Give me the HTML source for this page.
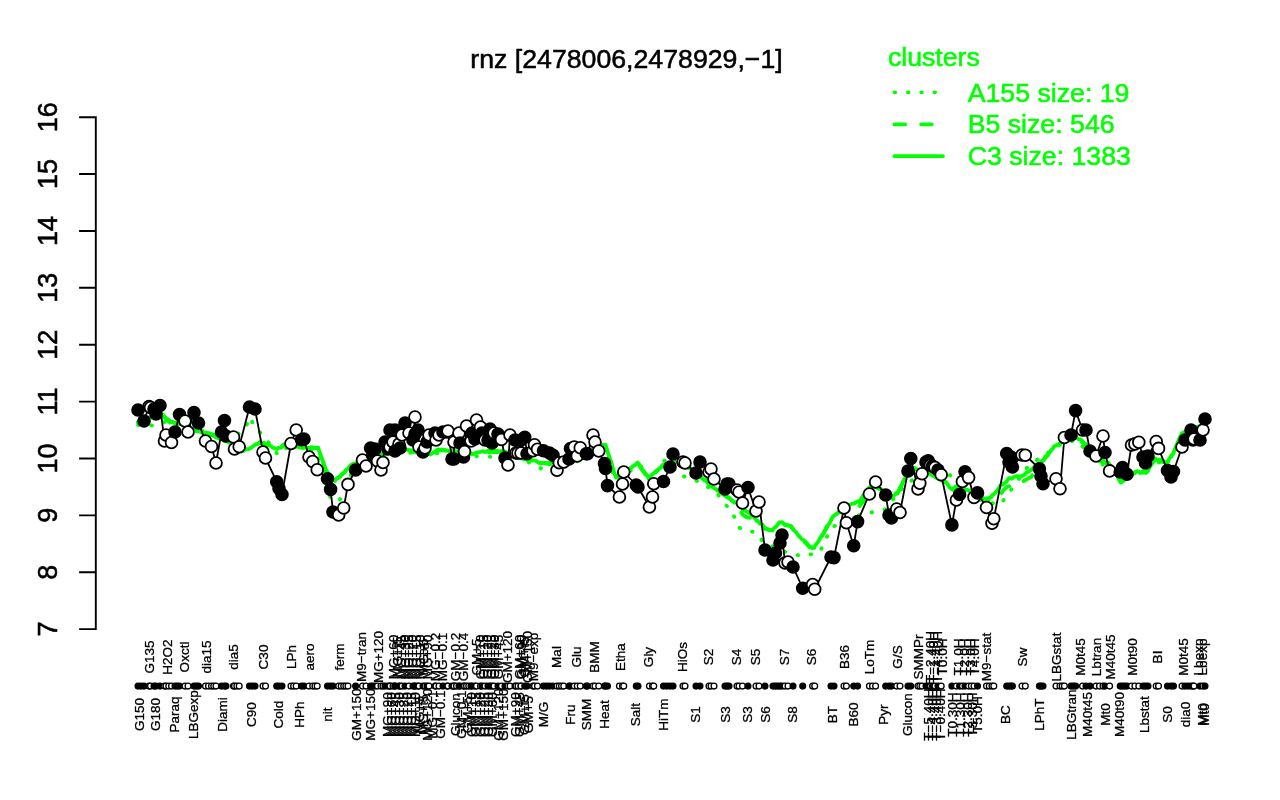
<!DOCTYPE html><html><head><meta charset="utf-8"><title>rnz</title><style>html,body{margin:0;padding:0;background:#fff;overflow:hidden}svg{display:block;will-change:transform}text{font-family:"Liberation Sans",Arial,Helvetica,sans-serif}</style></head><body>
<svg width="1280" height="800" viewBox="0 0 1280 800">
<rect width="1280" height="800" fill="#fff"/>
<text x="626.5" y="67.7" font-size="26.7" text-anchor="middle" stroke="#000" stroke-width="0.55">rnz [2478006,2478929,−1]</text>
<g stroke="#000" stroke-width="1.9" fill="none" stroke-linecap="butt">
<path d="M95.8 630.05V116.23
M79.1 629.1H96.75
M79.1 572.22H96.75
M79.1 515.34H96.75
M79.1 458.46H96.75
M79.1 401.58H96.75
M79.1 344.7H96.75
M79.1 287.82H96.75
M79.1 230.94H96.75
M79.1 174.06H96.75
M79.1 117.18H96.75
"/></g>
<text transform="translate(57.1,629.1) rotate(-90)" font-size="27" text-anchor="middle" stroke="#000" stroke-width="0.55">7</text>
<text transform="translate(57.1,572.22) rotate(-90)" font-size="27" text-anchor="middle" stroke="#000" stroke-width="0.55">8</text>
<text transform="translate(57.1,515.34) rotate(-90)" font-size="27" text-anchor="middle" stroke="#000" stroke-width="0.55">9</text>
<text transform="translate(57.1,458.46) rotate(-90)" font-size="27" text-anchor="middle" stroke="#000" stroke-width="0.55">10</text>
<text transform="translate(57.1,401.58) rotate(-90)" font-size="27" text-anchor="middle" stroke="#000" stroke-width="0.55">11</text>
<text transform="translate(57.1,344.7) rotate(-90)" font-size="27" text-anchor="middle" stroke="#000" stroke-width="0.55">12</text>
<text transform="translate(57.1,287.82) rotate(-90)" font-size="27" text-anchor="middle" stroke="#000" stroke-width="0.55">13</text>
<text transform="translate(57.1,230.94) rotate(-90)" font-size="27" text-anchor="middle" stroke="#000" stroke-width="0.55">14</text>
<text transform="translate(57.1,174.06) rotate(-90)" font-size="27" text-anchor="middle" stroke="#000" stroke-width="0.55">15</text>
<text transform="translate(57.1,117.18) rotate(-90)" font-size="27" text-anchor="middle" stroke="#000" stroke-width="0.55">16</text>
<g fill="#00ff00" font-size="26.7" stroke="#00ff00" stroke-width="0.55"><text x="887.9" y="66.2">clusters</text>
<text x="967.7" y="101.7">A155 size: 19</text><text x="967.7" y="133.4">B5 size: 546</text><text x="967.7" y="165.2">C3 size: 1383</text></g>
<g stroke="#00ff00" stroke-width="3.8" stroke-linecap="round" fill="none">
<path d="M894.6 92.3H942.9" stroke-dasharray="0.6 12.7"/>
<path d="M894.6 124.4H942.9" stroke-dasharray="10.5 16.1"/>
<path d="M894.6 156.2H942.9"/></g>
<g stroke="#00ff00" fill="none" stroke-linecap="round" stroke-linejoin="round" stroke-width="3.8">
<polyline points="138,425 155,425.5 170,420 200,430 230,440 245,429 250,417 255,428 264,436 278,455 290,445 310,450 318,452 326,478 333,510 339,502 343,491 350,476 360,465 380,455 420,452 470,456 520,458 550,473 580,460 605,450 615,480 640,465 650,480 665,460 679,474.7 700,482 716,492 725.7,504.7 733,513 737,526 744.4,531 755.7,532 763,542 782,550.7 791,554 802.6,556 819.5,552.6 825,541 830.7,529 838,523.5 860,515 885,509.4 905,485 920,475 954.7,475.3 980,500 1000,505 1029,465 1060,445 1075,440 1100,462 1120,480 1140,470 1160,462 1175,455 1190,432 1205,428" stroke-dasharray="0.6 12.7"/>
<polyline points="138,422.5 140,421.83 143,420.83 146,419.83 149,418.83 150,418.5 152,417.5 155,416 158,414.5 160,413.5 161,414.4 164,417.1 167,419.8 170,422.5 173,423.3 176,424.1 179,424.9 182,425.7 185,426.5 188,427.62 191,428.74 194,429.86 197,430.98 200,432.1 203,432.88 206,433.67 209,434.45 212,435.24 213,435.5 215,436.5 218,438 219,438.5 221,439.41 224,440.77 227,442.14 230,443.5 233,445.68 236,447.86 239,450.05 241,451.5 242,451.25 245,450.5 248,449.75 249,449.5 251,448.23 254,446.32 257,444.41 260,442.5 263,443.59 266,444.68 269,445.77 271,446.5 272,447 275,448.5 277,449.5 278,448.93 281,447.21 284,445.49 284.5,445.2 287,445.75 290,446.4 293,447.06 295,447.5 296,447.55 299,447.7 302,447.85 305,448 308,448 311,448 314,448 317,448 318,448 320,453.62 323,462.06 326,470.5 329,474.17 332,477.83 335,481.5 338,478.5 341,475.5 344,472.5 346,470.5 347,469.5 350,466.5 353,464.9 356,463.3 359,461.7 362,460.1 365,458.5 368,457.83 371,457.17 374,456.5 377,455.83 380,455.17 383,454.5 386,453.93 389,453.36 392,452.79 395,452.22 398,451.65 401,451.08 404,450.5 405.6,450.2 407,450.43 410,450.93 411,451.1 413,451.5 416,452.1 419,452.7 422,453.3 425,453.9 428,454.5 430,454.9 431,454.4 434,452.9 437,451.4 439.4,450.2 440,450.24 443,450.45 446,450.65 449,450.85 452,451.06 452.6,451.1 455,451.48 458,451.95 461,452.42 464,452.9 467,453.37 470,453.84 471,454 473,453.75 476,453.37 479,452.99 482,452.61 485,452.23 486,452.1 488,452.1 491,452.1 494,452.1 497,452.1 500,452.1 501,452.1 503,452.68 506,453.54 509,454.41 510.7,454.9 512,455.33 515,456.32 518,457.32 521,458.31 524,459.31 527,460.3 527.6,460.5 530,460.91 533,461.42 536,461.93 539,462.43 542,462.94 545,463.45 548,463.96 550,464.3 551,464.01 554,463.14 557,462.27 560,461.4 563,460.53 566,459.66 569,458.79 570,458.5 572,457.9 575,457 578,456.1 581,455.2 584,454.3 587,453.4 590,452.5 593,450.7 596,448.9 599,447.1 600,446.5 602,446.14 605,445.61 605.6,445.5 608,453 611,462.37 614,471.75 616,478 617,477.3 620,475.21 623,473.12 626,471.02 629,468.93 632,466.84 635,464.74 637.5,463 638,463.72 641,468.06 644,472.39 647,476.72 648.75,479.25 650,478 653,475 656,472 659,469 662,466 662.5,465.5 665,464.9 668,464.18 671,463.46 674,462.74 675,462.5 677,463.3 680,464.5 683,465.7 686,466.9 689,468.1 690,468.5 692,470.1 695,472.5 698,474.9 701,477.3 704,479.7 705,480.5 707,482.14 710,484.59 713,487.05 716,489.5 719,491.55 722,493.61 725,495.66 728,497.71 731,499.76 734,502.48 735,503.75 737,506.55 740,510.76 743,514.96 746,516.83 749,517.61 752,518.39 755,519.17 757.5,521.2 758,521.69 761,524.61 764,527.53 765,528.5 767,529.03 770,529.82 772.6,530.5 773,530.09 776,527.05 779,524.01 780,523 782,523.64 785,524.59 788,525.55 791,526.5 794,530.14 797,533.78 799,536.2 800,537.23 803,540.31 806,543.39 809,546.47 810,547.5 812,548 814,548.5 815,546.94 818,542.28 821,537.61 823,534.5 824,532.73 827,527.42 830,522.1 832.6,517.5 833,517.18 836,514.74 839,512.31 840,511.5 842,510.23 845,508.32 848,506.41 851,504.5 854,505.25 857,506 859,506.5 860,505.64 863,502.07 866,496.5 869,491.25 872,486 875,486.83 878,488.17 881,489.5 884,492.17 887,494.83 890,497.5 893,495.9 896,494.3 897.5,493.5 899,490.5 902,484.5 905,478.5 908,475.31 911,472.12 914,468.93 914.4,468.5 917,469.5 920,470.65 923,471.81 926,472.96 929,474.12 930,474.5 932,475.5 935,477 938,478.5 941,480 944,481.5 946,482.5 947,483.73 950,487.43 952,489.9 953,489.23 956,487.21 957.5,486.2 959,486.96 962,488.47 965,489.98 968,491.49 970,492.5 971,493.18 974,495.22 977,497.26 980,499.3 983,498.82 986,498.97 989,500.18 991.3,501.11 992,500.68 995,498.87 998,497.05 1001,494.11 1002.6,491.34 1004,489.45 1007,487.02 1010,485.92 1013,486.45 1016,486.14 1019,484.17 1022,482.2 1025,480.23 1028,478.59 1031,477.18 1032.6,474.72 1034,472.42 1037,467.51 1040,463.09 1043,460.57 1043.8,459.9 1046,457.23 1049,453.59 1052,449.96 1053.2,448.5 1055,447.18 1058,444.98 1060.7,443 1061,442.76 1064,440.34 1067,437.92 1070,435.5 1073,437 1076,438.5 1077.6,439.3 1079,440.19 1082,442.09 1085,444 1088,447.56 1091,451.12 1094,454.68 1097,458.23 1099.5,461.2 1100,461.33 1103,462.09 1106,462.86 1108.5,463.5 1109,464.27 1112,468.86 1115,473.46 1118,478.06 1120.9,482.5 1121,482.43 1124,480.38 1127,478.32 1130,476.27 1133,474.21 1135.5,472.5 1136,472.5 1139,472.5 1142,472.5 1145,472.5 1146.7,472.5 1148,470.55 1151,466.05 1154,461.55 1155.7,459 1157,459.52 1160,460.71 1163,461.91 1166,463.1 1167,463.5 1169,460.49 1172,455.96 1173.7,453.4 1175,450.24 1178,442.95 1181,435.66 1181.6,434.2 1184,433.18 1187,431.9 1190,430.63 1193,429.35 1195,428.5 1196,428.2 1199,427.3 1202,426.4 1205,425.5" stroke-dasharray="10.5 16.1"/>
<polyline points="138,422 140.8,420.68 143.6,419.37 146.4,419.53 149.2,417.33 150,418 152,417.08 154.8,415.3 157.6,413.23 160,413 160.4,413.38 163.2,414.86 166,418.25 168.8,419.97 170,422 171.6,421.53 174.4,423.01 177.2,424.64 180,423.84 182.8,424.8 185,426 185.6,426.5 188.4,428.25 191.2,428.48 194,429.13 196.8,431.45 199.6,430.45 200,431.6 202.4,433.02 205.2,432.5 208,432.91 210.8,433.58 213,435 213.6,434.88 216.4,437.4 219,438 219.2,437.39 222,439.54 224.8,440.94 227.6,441.63 230,443 230.4,443.4 233.2,444.37 236,446.39 238.8,448.75 241,451 241.6,451.25 244.4,449.99 247.2,449.04 249,449 250,448.55 252.8,446.48 255.6,444.36 258.4,443.67 260,442 261.2,442.87 264,442.89 266.8,444.64 269.6,445.55 271,446 272.4,447.53 275.2,448.6 277,449 278,447.96 280.8,447.88 283.6,444.38 284.5,444.7 286.4,444.94 289.2,446.3 292,445.58 294.8,446.93 295,447 297.6,446.12 300.4,447.64 303.2,447.99 305,447.5 306,447.66 308.8,448.33 311.6,447.09 314.4,447.93 317.2,447.71 318,447.5 320,453.3 322.8,460.9 325.6,469.62 326,470 328.4,473.91 331.2,476.3 334,480.14 335,481 336.8,478.23 339.6,476.84 342.4,473.92 345.2,471.88 346,470 348,468.71 350,466 350.8,465.1 353.6,463.83 356.4,462.96 359.2,460.04 362,459.52 364.8,457.38 365,458 367.6,456.58 370.4,455.83 373.2,456.77 376,454.74 378.8,454.38 381.6,454.07 383,454 384.4,454.55 387.2,452.28 390,452.56 392.8,452.24 395.6,452.45 398.4,451.77 401.2,451.34 404,449.52 405.6,449.7 406.8,449.71 409.6,450.06 411,450.6 412.4,451.73 415.2,452.45 418,451.23 420.8,451.85 423.6,452.53 426.4,453.09 429.2,454.21 430,454.4 432,453.6 434.8,451.48 437.6,449.51 439.4,449.7 440.4,449.59 443.2,449.67 446,450.3 448.8,451.34 451.6,450.95 452.6,450.6 454.4,450.92 457.2,451.58 460,452.15 462.8,451.23 465.6,453.53 468.4,453.71 471,453.5 471.2,454.3 474,453.78 476.8,452.53 479.6,452.19 482.4,451.18 485.2,452 486,451.6 488,450.64 490.8,450.65 493.6,450.96 496.4,450.86 499.2,451.25 501,451.6 502,450.9 504.8,451.6 507.6,452.74 510.4,453.44 510.7,454.4 513.2,454.93 516,455.11 518.8,457.91 521.6,458.26 524.4,458.17 527.2,459.32 527.6,460 530,460.07 532.8,460.58 535.6,460.53 538.4,462.6 541.2,463.39 544,462.71 546.8,463.22 549.6,462.82 550,463.8 552.4,462.23 555.2,461.95 558,460.96 560.8,461.39 563.6,459.11 566.4,457.99 569.2,459.22 570,458 572,457.46 574.8,455.78 577.6,455.81 580.4,453.84 583.2,454.1 586,454.25 588.8,453.16 590,452 591.6,451.47 594.4,448.83 597.2,447.39 600,446 602.8,444.77 605.6,445 608.4,454.35 611.2,462.57 614,471.86 616,477.5 616.8,476.57 619.6,474.38 622.4,473.72 625.2,472.15 628,469.9 630.8,467.85 633.6,465.92 636.4,463.8 637.5,462.5 639.2,464.35 642,469.04 644.8,472.73 647.6,476.05 648.75,478.75 650.4,476.06 653.2,473.81 656,470.97 658.8,469.12 661.6,466.9 662.5,465 664.4,464.43 667.2,464.83 670,464.27 672.8,463.53 675,462 675.6,461.94 678.4,462.75 681.2,463.88 684,464.93 686.8,466.07 689.6,468.11 690,468 692.4,470.8 695.2,472.91 698,474.35 700.8,476.98 703.6,479.54 705,480 706.4,480.23 709.2,483.79 712,486.63 714.8,488.64 716,489 717.6,490.65 720.4,491.96 723.2,493.22 726,496.48 728.8,497.39 731.6,500.34 734.4,502.63 735,502 737.2,503.57 740,505.87 742.8,509.36 745.6,511.17 746,511 748.4,512.3 751.2,514.57 754,516.98 756.8,521 757.5,520.7 759.6,523.42 762.4,524.69 765,528 765.2,528.77 768,529.85 770.8,529.87 772.6,530 773.6,528.66 776.4,526.26 779.2,522.5 780,522.5 782,522.07 784.8,525.06 787.6,525.25 790.4,525.87 791,526 793.2,529.62 796,531.92 798.8,536.28 799,535.7 801.6,539.09 804.4,540.61 807.2,543.58 810,547 812.8,547.24 814,548 815.6,544.94 818.4,541.35 821.2,536.27 823,534 824,532.05 826.8,526.46 829.6,523.21 832.4,517.03 832.6,517 835.2,514.8 838,512.8 840,511 840.8,511.38 843.6,508.53 846.4,507.85 849.2,505.15 851,504 852,503.82 854.8,503.1 857.6,501.29 859,502 860.4,499.97 863.2,495.6 866,492.5 868.8,487.91 871.6,486.16 872,485 874.4,485.35 877.2,487.25 880,489.05 881,489 882.8,490.72 885.6,492.71 888.4,495.62 890,497 891.2,496.48 894,495.49 896.8,492.51 897.5,493 899.6,488.93 902.4,482.65 905,478 905.2,477.3 908,475.41 910.8,471.85 913.6,468.99 914.4,468 916.4,469.34 919.2,470.75 922,470.8 924.8,472.25 927.6,473.09 930,474 930.4,474.23 933.2,476.02 936,476.9 938.8,478.47 941.6,479.75 944.4,482.17 946,482 947.2,483.92 950,487.76 952,489.4 952.8,489.83 955.6,486.45 957.5,485.7 958.4,486.28 961.2,488.54 964,489.72 966.8,489.59 969.6,490.97 970,492 972.4,493.5 975.2,494.6 978,496.87 980,498.8 980.8,497.73 983.6,498.6 986.4,498.41 989.2,498.21 991.3,497 992,495.42 994.8,493.39 997.6,489.99 1000.4,485.58 1002.6,483.8 1003.2,484.17 1006,482.16 1008.8,478.32 1010,478 1011.6,478.61 1014.4,476.72 1017.2,476.24 1020,476.68 1022.8,475.66 1025,474.4 1025.6,473.21 1028.4,471.74 1031.2,469.87 1032.6,468.8 1034,467.27 1036.8,464.61 1039.6,462.53 1042.4,461.06 1043.8,459.4 1045.2,456.64 1048,454.43 1050.8,450.78 1053.2,448 1053.6,446.65 1056.4,445.28 1059.2,443.87 1060.7,442.5 1062,441.48 1064.8,438.23 1067.6,438 1070,435 1070.4,435.83 1073.2,437.64 1076,437.13 1077.6,438.8 1078.8,439.05 1081.6,440.33 1084.4,443.73 1085,443.5 1087.2,445.6 1090,448.62 1092.8,452.58 1095.6,456.98 1098.4,460.1 1099.5,460.7 1101.2,460.6 1104,461.08 1106.8,463.49 1108.5,463 1109.6,464.84 1112.4,469.42 1115.2,472.36 1118,476.58 1120.8,482.26 1120.9,482 1123.6,479.99 1126.4,477.29 1129.2,477.28 1132,474.69 1134.8,473.14 1135.5,472 1137.6,471.08 1140.4,472.78 1143.2,471.05 1146,472.8 1146.7,472 1148.8,468.75 1151.6,464.3 1154.4,460.57 1155.7,458.5 1157.2,460.04 1160,459.7 1162.8,460.51 1165.6,462.5 1167,463 1168.4,460.31 1171.2,455.81 1173.7,452.9 1174,451.43 1176.8,444.38 1179.6,437.9 1181.6,433.7 1182.4,432.95 1185.2,431.74 1188,431.55 1190.8,429.32 1193.6,428.6 1195,428 1196.4,426.87 1199.2,426.4 1202,424.84 1204.8,424.51 1205,425"/>
</g>
<polyline points="138,410 144,421 149,406.5 150.5,407.5 154,409 156,414 160,405.5 164.5,441 166,435 171.5,442.5 175,432 179.5,414.5 185,421 188,432 194,412.5 198.5,423 205.5,441 211.5,446.5 216,463 221.5,432 224.5,420.5 226,436 233.5,437 234.5,449 239.2,446.8 249.5,407 255,409 263,452 265.5,458 276.7,481.7 279,488.5 282,494.5 291,443.5 296.2,430 301.5,439.7 304,439 309,457 312.7,461.5 317.2,469.7 327.5,478.7 330.6,489.4 333,512 338.7,515 343.7,508 348,484.4 355.6,470 362.5,460 366,466 370.6,448 372.5,455 375,449 377.5,461 381,470 383,462.5 385,442 388,449 390,430 390,447 393,442 395,451 395,430 399,444 400,448 402,435 405,423 409,433 413,440 415,417 415,434 418,430 419,447 423,452 425,448 427,442 429,435 435,433 436,440 439,435 443,432 447,432 448,431 452,459 454,459 454,442 459,433 460,443 463.5,457 464.5,451.5 466.5,426 471,441 472,433 475,439 476.5,420 480.5,427 482,433 485,440 488,440 490,429 492,443 494,433 498,434 501.5,439.5 505,458 508,465 510,435 515,440 516,453 518,453 521,440 521,453 524.75,437.25 527,453.75 533,450.75 534.5,444.75 537.5,449.25 543.5,450.75 549.5,453 553,455.25 557,470.25 559.25,462.75 563.75,462 569,459 570.5,448.5 574.25,447 577.25,456 580.25,447.75 586.25,453.75 587.5,453.75 593,435 595,442 598.75,451 604.5,463.5 605.5,468.5 607.5,485.6 619.4,497 622.5,484 623.75,472 636.25,485 638,487 649.4,507 652.5,497 653.75,483.75 663.5,481.5 670,467 673,454 683,462 685,463 696,473 700,462 709,472 711,469 714,479 725,489 727,484 729,484 737,490 739,492 742.5,503 748,487.5 756,511 759,502 765,550 773,560 775.5,553 780,543 782,535 785,563 788,562 793,567 802.7,588.2 812.6,584.6 814.7,589.3 831,557 834,557.6 844,508 846.4,522.75 853.7,545.8 857.6,521.6 869.4,494 875.6,482 885.7,495 889,515 891.4,518 896.7,509 900,512.5 908,471 910.8,458.5 918,488.9 919.8,483.2 922,473.7 926,462 928.2,460.7 930.5,465.2 932.5,466 935,467.5 938,470 941.2,474.8 951.9,524.9 956.4,500 959.6,494.5 962.4,481.5 965,471.7 968.6,477.6 974,497.4 977.5,492.9 986.5,507.5 992,523.2 993.8,518.7 1006.7,453.5 1009,462 1011,457 1012.4,467 1022,455 1025.3,455.2 1039.4,468.75 1041,476 1043,483.75 1056,478.75 1060,488.75 1064.4,437.5 1071,435 1075.6,410.6 1082.5,430 1086,430 1090,451 1096,456 1103,436 1105,452.5 1109.6,470.9 1120.2,472 1122.5,467.5 1127,474.2 1131.5,445 1134.9,443.9 1138.8,442.2 1143,457 1145.5,463 1148,456 1156.2,441.6 1158.5,448.4 1167.5,470.5 1171,477 1173.5,471.5 1182,447 1185,440 1191,430 1193,440 1194,439 1200,440 1203,430 1205,419" fill="none" stroke="#000" stroke-width="1.8" stroke-linejoin="round"/>
<g stroke="#000" stroke-width="1.8">
<circle cx="138" cy="410" r="5.9" fill="#000"/>
<circle cx="144" cy="421" r="5.9" fill="#000"/>
<circle cx="149" cy="406.5" r="5.9" fill="#fff"/>
<circle cx="150.5" cy="407.5" r="5.9" fill="#fff"/>
<circle cx="154" cy="409" r="5.9" fill="#000"/>
<circle cx="156" cy="414" r="5.9" fill="#000"/>
<circle cx="160" cy="405.5" r="5.9" fill="#000"/>
<circle cx="164.5" cy="441" r="5.9" fill="#fff"/>
<circle cx="166" cy="435" r="5.9" fill="#fff"/>
<circle cx="171.5" cy="442.5" r="5.9" fill="#fff"/>
<circle cx="175" cy="432" r="5.9" fill="#000"/>
<circle cx="179.5" cy="414.5" r="5.9" fill="#000"/>
<circle cx="185" cy="421" r="5.9" fill="#fff"/>
<circle cx="188" cy="432" r="5.9" fill="#fff"/>
<circle cx="194" cy="412.5" r="5.9" fill="#000"/>
<circle cx="198.5" cy="423" r="5.9" fill="#000"/>
<circle cx="205.5" cy="441" r="5.9" fill="#fff"/>
<circle cx="211.5" cy="446.5" r="5.9" fill="#fff"/>
<circle cx="216" cy="463" r="5.9" fill="#fff"/>
<circle cx="221.5" cy="432" r="5.9" fill="#000"/>
<circle cx="224.5" cy="420.5" r="5.9" fill="#000"/>
<circle cx="226" cy="436" r="5.9" fill="#000"/>
<circle cx="233.5" cy="437" r="5.9" fill="#fff"/>
<circle cx="234.5" cy="449" r="5.9" fill="#fff"/>
<circle cx="239.2" cy="446.8" r="5.9" fill="#fff"/>
<circle cx="249.5" cy="407" r="5.9" fill="#000"/>
<circle cx="255" cy="409" r="5.9" fill="#000"/>
<circle cx="263" cy="452" r="5.9" fill="#fff"/>
<circle cx="265.5" cy="458" r="5.9" fill="#fff"/>
<circle cx="276.7" cy="481.7" r="5.9" fill="#000"/>
<circle cx="279" cy="488.5" r="5.9" fill="#000"/>
<circle cx="282" cy="494.5" r="5.9" fill="#000"/>
<circle cx="291" cy="443.5" r="5.9" fill="#fff"/>
<circle cx="296.2" cy="430" r="5.9" fill="#fff"/>
<circle cx="301.5" cy="439.7" r="5.9" fill="#000"/>
<circle cx="304" cy="439" r="5.9" fill="#000"/>
<circle cx="309" cy="457" r="5.9" fill="#fff"/>
<circle cx="312.7" cy="461.5" r="5.9" fill="#fff"/>
<circle cx="317.2" cy="469.7" r="5.9" fill="#fff"/>
<circle cx="327.5" cy="478.7" r="5.9" fill="#000"/>
<circle cx="330.6" cy="489.4" r="5.9" fill="#000"/>
<circle cx="333" cy="512" r="5.9" fill="#000"/>
<circle cx="338.7" cy="515" r="5.9" fill="#fff"/>
<circle cx="343.7" cy="508" r="5.9" fill="#fff"/>
<circle cx="348" cy="484.4" r="5.9" fill="#fff"/>
<circle cx="355.6" cy="470" r="5.9" fill="#000"/>
<circle cx="362.5" cy="460" r="5.9" fill="#fff"/>
<circle cx="366" cy="466" r="5.9" fill="#fff"/>
<circle cx="370.6" cy="448" r="5.9" fill="#000"/>
<circle cx="372.5" cy="455" r="5.9" fill="#000"/>
<circle cx="375" cy="449" r="5.9" fill="#000"/>
<circle cx="377.5" cy="461" r="5.9" fill="#fff"/>
<circle cx="381" cy="470" r="5.9" fill="#fff"/>
<circle cx="383" cy="462.5" r="5.9" fill="#fff"/>
<circle cx="385" cy="442" r="5.9" fill="#000"/>
<circle cx="388" cy="449" r="5.9" fill="#000"/>
<circle cx="390" cy="430" r="5.9" fill="#000"/>
<circle cx="390" cy="447" r="5.9" fill="#fff"/>
<circle cx="393" cy="442" r="5.9" fill="#fff"/>
<circle cx="395" cy="451" r="5.9" fill="#000"/>
<circle cx="395" cy="430" r="5.9" fill="#000"/>
<circle cx="399" cy="444" r="5.9" fill="#fff"/>
<circle cx="400" cy="448" r="5.9" fill="#000"/>
<circle cx="402" cy="435" r="5.9" fill="#fff"/>
<circle cx="405" cy="423" r="5.9" fill="#000"/>
<circle cx="409" cy="433" r="5.9" fill="#fff"/>
<circle cx="413" cy="440" r="5.9" fill="#000"/>
<circle cx="415" cy="417" r="5.9" fill="#fff"/>
<circle cx="415" cy="434" r="5.9" fill="#000"/>
<circle cx="418" cy="430" r="5.9" fill="#000"/>
<circle cx="419" cy="447" r="5.9" fill="#fff"/>
<circle cx="423" cy="452" r="5.9" fill="#000"/>
<circle cx="425" cy="448" r="5.9" fill="#fff"/>
<circle cx="427" cy="442" r="5.9" fill="#000"/>
<circle cx="429" cy="435" r="5.9" fill="#fff"/>
<circle cx="435" cy="433" r="5.9" fill="#000"/>
<circle cx="436" cy="440" r="5.9" fill="#fff"/>
<circle cx="439" cy="435" r="5.9" fill="#fff"/>
<circle cx="443" cy="432" r="5.9" fill="#000"/>
<circle cx="447" cy="432" r="5.9" fill="#fff"/>
<circle cx="448" cy="431" r="5.9" fill="#fff"/>
<circle cx="452" cy="459" r="5.9" fill="#000"/>
<circle cx="454" cy="459" r="5.9" fill="#000"/>
<circle cx="454" cy="442" r="5.9" fill="#fff"/>
<circle cx="459" cy="433" r="5.9" fill="#fff"/>
<circle cx="460" cy="443" r="5.9" fill="#000"/>
<circle cx="463.5" cy="457" r="5.9" fill="#000"/>
<circle cx="464.5" cy="451.5" r="5.9" fill="#fff"/>
<circle cx="466.5" cy="426" r="5.9" fill="#fff"/>
<circle cx="471" cy="441" r="5.9" fill="#fff"/>
<circle cx="472" cy="433" r="5.9" fill="#000"/>
<circle cx="475" cy="439" r="5.9" fill="#000"/>
<circle cx="476.5" cy="420" r="5.9" fill="#fff"/>
<circle cx="480.5" cy="427" r="5.9" fill="#fff"/>
<circle cx="482" cy="433" r="5.9" fill="#000"/>
<circle cx="485" cy="440" r="5.9" fill="#fff"/>
<circle cx="488" cy="440" r="5.9" fill="#000"/>
<circle cx="490" cy="429" r="5.9" fill="#000"/>
<circle cx="492" cy="443" r="5.9" fill="#000"/>
<circle cx="494" cy="433" r="5.9" fill="#fff"/>
<circle cx="498" cy="434" r="5.9" fill="#000"/>
<circle cx="501.5" cy="439.5" r="5.9" fill="#fff"/>
<circle cx="505" cy="458" r="5.9" fill="#000"/>
<circle cx="508" cy="465" r="5.9" fill="#fff"/>
<circle cx="510" cy="435" r="5.9" fill="#fff"/>
<circle cx="515" cy="440" r="5.9" fill="#000"/>
<circle cx="516" cy="453" r="5.9" fill="#fff"/>
<circle cx="518" cy="453" r="5.9" fill="#fff"/>
<circle cx="521" cy="440" r="5.9" fill="#000"/>
<circle cx="521" cy="453" r="5.9" fill="#fff"/>
<circle cx="524.75" cy="437.25" r="5.9" fill="#000"/>
<circle cx="527" cy="453.75" r="5.9" fill="#000"/>
<circle cx="533" cy="450.75" r="5.9" fill="#fff"/>
<circle cx="534.5" cy="444.75" r="5.9" fill="#fff"/>
<circle cx="537.5" cy="449.25" r="5.9" fill="#fff"/>
<circle cx="543.5" cy="450.75" r="5.9" fill="#000"/>
<circle cx="549.5" cy="453" r="5.9" fill="#000"/>
<circle cx="553" cy="455.25" r="5.9" fill="#000"/>
<circle cx="557" cy="470.25" r="5.9" fill="#fff"/>
<circle cx="559.25" cy="462.75" r="5.9" fill="#fff"/>
<circle cx="563.75" cy="462" r="5.9" fill="#fff"/>
<circle cx="569" cy="459" r="5.9" fill="#000"/>
<circle cx="570.5" cy="448.5" r="5.9" fill="#000"/>
<circle cx="574.25" cy="447" r="5.9" fill="#fff"/>
<circle cx="577.25" cy="456" r="5.9" fill="#fff"/>
<circle cx="580.25" cy="447.75" r="5.9" fill="#fff"/>
<circle cx="586.25" cy="453.75" r="5.9" fill="#000"/>
<circle cx="587.5" cy="453.75" r="5.9" fill="#000"/>
<circle cx="593" cy="435" r="5.9" fill="#fff"/>
<circle cx="595" cy="442" r="5.9" fill="#fff"/>
<circle cx="598.75" cy="451" r="5.9" fill="#fff"/>
<circle cx="604.5" cy="463.5" r="5.9" fill="#000"/>
<circle cx="605.5" cy="468.5" r="5.9" fill="#000"/>
<circle cx="607.5" cy="485.6" r="5.9" fill="#000"/>
<circle cx="619.4" cy="497" r="5.9" fill="#fff"/>
<circle cx="622.5" cy="484" r="5.9" fill="#fff"/>
<circle cx="623.75" cy="472" r="5.9" fill="#fff"/>
<circle cx="636.25" cy="485" r="5.9" fill="#000"/>
<circle cx="638" cy="487" r="5.9" fill="#000"/>
<circle cx="649.4" cy="507" r="5.9" fill="#fff"/>
<circle cx="652.5" cy="497" r="5.9" fill="#fff"/>
<circle cx="653.75" cy="483.75" r="5.9" fill="#fff"/>
<circle cx="663.5" cy="481.5" r="5.9" fill="#000"/>
<circle cx="670" cy="467" r="5.9" fill="#000"/>
<circle cx="673" cy="454" r="5.9" fill="#000"/>
<circle cx="683" cy="462" r="5.9" fill="#fff"/>
<circle cx="685" cy="463" r="5.9" fill="#fff"/>
<circle cx="696" cy="473" r="5.9" fill="#000"/>
<circle cx="700" cy="462" r="5.9" fill="#000"/>
<circle cx="709" cy="472" r="5.9" fill="#fff"/>
<circle cx="711" cy="469" r="5.9" fill="#fff"/>
<circle cx="714" cy="479" r="5.9" fill="#fff"/>
<circle cx="725" cy="489" r="5.9" fill="#000"/>
<circle cx="727" cy="484" r="5.9" fill="#000"/>
<circle cx="729" cy="484" r="5.9" fill="#000"/>
<circle cx="737" cy="490" r="5.9" fill="#fff"/>
<circle cx="739" cy="492" r="5.9" fill="#fff"/>
<circle cx="742.5" cy="503" r="5.9" fill="#fff"/>
<circle cx="748" cy="487.5" r="5.9" fill="#000"/>
<circle cx="756" cy="511" r="5.9" fill="#fff"/>
<circle cx="759" cy="502" r="5.9" fill="#fff"/>
<circle cx="765" cy="550" r="5.9" fill="#000"/>
<circle cx="773" cy="560" r="5.9" fill="#000"/>
<circle cx="775.5" cy="553" r="5.9" fill="#000"/>
<circle cx="780" cy="543" r="5.9" fill="#000"/>
<circle cx="782" cy="535" r="5.9" fill="#000"/>
<circle cx="785" cy="563" r="5.9" fill="#fff"/>
<circle cx="788" cy="562" r="5.9" fill="#fff"/>
<circle cx="793" cy="567" r="5.9" fill="#000"/>
<circle cx="802.7" cy="588.2" r="5.9" fill="#000"/>
<circle cx="812.6" cy="584.6" r="5.9" fill="#fff"/>
<circle cx="814.7" cy="589.3" r="5.9" fill="#fff"/>
<circle cx="831" cy="557" r="5.9" fill="#000"/>
<circle cx="834" cy="557.6" r="5.9" fill="#000"/>
<circle cx="844" cy="508" r="5.9" fill="#fff"/>
<circle cx="846.4" cy="522.75" r="5.9" fill="#fff"/>
<circle cx="853.7" cy="545.8" r="5.9" fill="#000"/>
<circle cx="857.6" cy="521.6" r="5.9" fill="#000"/>
<circle cx="869.4" cy="494" r="5.9" fill="#fff"/>
<circle cx="875.6" cy="482" r="5.9" fill="#fff"/>
<circle cx="885.7" cy="495" r="5.9" fill="#000"/>
<circle cx="889" cy="515" r="5.9" fill="#000"/>
<circle cx="891.4" cy="518" r="5.9" fill="#000"/>
<circle cx="896.7" cy="509" r="5.9" fill="#fff"/>
<circle cx="900" cy="512.5" r="5.9" fill="#fff"/>
<circle cx="908" cy="471" r="5.9" fill="#000"/>
<circle cx="910.8" cy="458.5" r="5.9" fill="#000"/>
<circle cx="918" cy="488.9" r="5.9" fill="#fff"/>
<circle cx="919.8" cy="483.2" r="5.9" fill="#fff"/>
<circle cx="922" cy="473.7" r="5.9" fill="#fff"/>
<circle cx="926" cy="462" r="5.9" fill="#000"/>
<circle cx="928.2" cy="460.7" r="5.9" fill="#000"/>
<circle cx="930.5" cy="465.2" r="5.9" fill="#fff"/>
<circle cx="932.5" cy="466" r="5.9" fill="#000"/>
<circle cx="935" cy="467.5" r="5.9" fill="#fff"/>
<circle cx="938" cy="470" r="5.9" fill="#000"/>
<circle cx="941.2" cy="474.8" r="5.9" fill="#fff"/>
<circle cx="951.9" cy="524.9" r="5.9" fill="#000"/>
<circle cx="956.4" cy="500" r="5.9" fill="#fff"/>
<circle cx="959.6" cy="494.5" r="5.9" fill="#000"/>
<circle cx="962.4" cy="481.5" r="5.9" fill="#fff"/>
<circle cx="965" cy="471.7" r="5.9" fill="#000"/>
<circle cx="968.6" cy="477.6" r="5.9" fill="#fff"/>
<circle cx="974" cy="497.4" r="5.9" fill="#fff"/>
<circle cx="977.5" cy="492.9" r="5.9" fill="#000"/>
<circle cx="986.5" cy="507.5" r="5.9" fill="#fff"/>
<circle cx="992" cy="523.2" r="5.9" fill="#fff"/>
<circle cx="993.8" cy="518.7" r="5.9" fill="#fff"/>
<circle cx="1006.7" cy="453.5" r="5.9" fill="#000"/>
<circle cx="1009" cy="462" r="5.9" fill="#000"/>
<circle cx="1011" cy="457" r="5.9" fill="#000"/>
<circle cx="1012.4" cy="467" r="5.9" fill="#000"/>
<circle cx="1022" cy="455" r="5.9" fill="#fff"/>
<circle cx="1025.3" cy="455.2" r="5.9" fill="#fff"/>
<circle cx="1039.4" cy="468.75" r="5.9" fill="#000"/>
<circle cx="1041" cy="476" r="5.9" fill="#000"/>
<circle cx="1043" cy="483.75" r="5.9" fill="#000"/>
<circle cx="1056" cy="478.75" r="5.9" fill="#fff"/>
<circle cx="1060" cy="488.75" r="5.9" fill="#fff"/>
<circle cx="1064.4" cy="437.5" r="5.9" fill="#fff"/>
<circle cx="1071" cy="435" r="5.9" fill="#000"/>
<circle cx="1075.6" cy="410.6" r="5.9" fill="#000"/>
<circle cx="1082.5" cy="430" r="5.9" fill="#fff"/>
<circle cx="1086" cy="430" r="5.9" fill="#000"/>
<circle cx="1090" cy="451" r="5.9" fill="#000"/>
<circle cx="1096" cy="456" r="5.9" fill="#fff"/>
<circle cx="1103" cy="436" r="5.9" fill="#fff"/>
<circle cx="1105" cy="452.5" r="5.9" fill="#000"/>
<circle cx="1109.6" cy="470.9" r="5.9" fill="#fff"/>
<circle cx="1120.2" cy="472" r="5.9" fill="#000"/>
<circle cx="1122.5" cy="467.5" r="5.9" fill="#000"/>
<circle cx="1127" cy="474.2" r="5.9" fill="#000"/>
<circle cx="1131.5" cy="445" r="5.9" fill="#fff"/>
<circle cx="1134.9" cy="443.9" r="5.9" fill="#fff"/>
<circle cx="1138.8" cy="442.2" r="5.9" fill="#fff"/>
<circle cx="1143" cy="457" r="5.9" fill="#000"/>
<circle cx="1145.5" cy="463" r="5.9" fill="#000"/>
<circle cx="1148" cy="456" r="5.9" fill="#000"/>
<circle cx="1156.2" cy="441.6" r="5.9" fill="#fff"/>
<circle cx="1158.5" cy="448.4" r="5.9" fill="#fff"/>
<circle cx="1167.5" cy="470.5" r="5.9" fill="#000"/>
<circle cx="1171" cy="477" r="5.9" fill="#000"/>
<circle cx="1173.5" cy="471.5" r="5.9" fill="#000"/>
<circle cx="1182" cy="447" r="5.9" fill="#fff"/>
<circle cx="1185" cy="440" r="5.9" fill="#000"/>
<circle cx="1191" cy="430" r="5.9" fill="#000"/>
<circle cx="1193" cy="440" r="5.9" fill="#000"/>
<circle cx="1194" cy="439" r="5.9" fill="#fff"/>
<circle cx="1200" cy="440" r="5.9" fill="#000"/>
<circle cx="1203" cy="430" r="5.9" fill="#fff"/>
<circle cx="1205" cy="419" r="5.9" fill="#000"/>
</g>
<g stroke="#000" stroke-width="1.3">
<circle cx="138" cy="686.1" r="2.9" fill="#000"/>
<circle cx="141" cy="686.1" r="2.9" fill="#000"/>
<circle cx="144" cy="686.1" r="2.9" fill="#000"/>
<circle cx="149" cy="686.1" r="2.9" fill="#fff"/>
<circle cx="150.5" cy="686.1" r="2.9" fill="#fff"/>
<circle cx="154" cy="686.1" r="2.9" fill="#000"/>
<circle cx="156" cy="686.1" r="2.9" fill="#000"/>
<circle cx="160" cy="686.1" r="2.9" fill="#000"/>
<circle cx="164.5" cy="686.1" r="2.9" fill="#fff"/>
<circle cx="166" cy="686.1" r="2.9" fill="#fff"/>
<circle cx="168.75" cy="686.1" r="2.9" fill="#fff"/>
<circle cx="171.5" cy="686.1" r="2.9" fill="#fff"/>
<circle cx="175" cy="686.1" r="2.9" fill="#000"/>
<circle cx="177.25" cy="686.1" r="2.9" fill="#000"/>
<circle cx="179.5" cy="686.1" r="2.9" fill="#000"/>
<circle cx="185" cy="686.1" r="2.9" fill="#fff"/>
<circle cx="188" cy="686.1" r="2.9" fill="#fff"/>
<circle cx="194" cy="686.1" r="2.9" fill="#000"/>
<circle cx="196.25" cy="686.1" r="2.9" fill="#000"/>
<circle cx="198.5" cy="686.1" r="2.9" fill="#000"/>
<circle cx="205.5" cy="686.1" r="2.9" fill="#fff"/>
<circle cx="208.5" cy="686.1" r="2.9" fill="#fff"/>
<circle cx="211.5" cy="686.1" r="2.9" fill="#fff"/>
<circle cx="213.75" cy="686.1" r="2.9" fill="#fff"/>
<circle cx="216" cy="686.1" r="2.9" fill="#fff"/>
<circle cx="221.5" cy="686.1" r="2.9" fill="#000"/>
<circle cx="224.5" cy="686.1" r="2.9" fill="#000"/>
<circle cx="226" cy="686.1" r="2.9" fill="#000"/>
<circle cx="233.5" cy="686.1" r="2.9" fill="#fff"/>
<circle cx="234.5" cy="686.1" r="2.9" fill="#fff"/>
<circle cx="236.85" cy="686.1" r="2.9" fill="#fff"/>
<circle cx="239.2" cy="686.1" r="2.9" fill="#fff"/>
<circle cx="249.5" cy="686.1" r="2.9" fill="#000"/>
<circle cx="252.25" cy="686.1" r="2.9" fill="#000"/>
<circle cx="255" cy="686.1" r="2.9" fill="#000"/>
<circle cx="263" cy="686.1" r="2.9" fill="#fff"/>
<circle cx="265.5" cy="686.1" r="2.9" fill="#fff"/>
<circle cx="276.7" cy="686.1" r="2.9" fill="#000"/>
<circle cx="279" cy="686.1" r="2.9" fill="#000"/>
<circle cx="282" cy="686.1" r="2.9" fill="#000"/>
<circle cx="291" cy="686.1" r="2.9" fill="#fff"/>
<circle cx="293.6" cy="686.1" r="2.9" fill="#fff"/>
<circle cx="296.2" cy="686.1" r="2.9" fill="#fff"/>
<circle cx="301.5" cy="686.1" r="2.9" fill="#000"/>
<circle cx="304" cy="686.1" r="2.9" fill="#000"/>
<circle cx="309" cy="686.1" r="2.9" fill="#fff"/>
<circle cx="312.7" cy="686.1" r="2.9" fill="#fff"/>
<circle cx="314.95" cy="686.1" r="2.9" fill="#fff"/>
<circle cx="317.2" cy="686.1" r="2.9" fill="#fff"/>
<circle cx="327.5" cy="686.1" r="2.9" fill="#000"/>
<circle cx="330.6" cy="686.1" r="2.9" fill="#000"/>
<circle cx="333" cy="686.1" r="2.9" fill="#000"/>
<circle cx="338.7" cy="686.1" r="2.9" fill="#fff"/>
<circle cx="341.2" cy="686.1" r="2.9" fill="#fff"/>
<circle cx="343.7" cy="686.1" r="2.9" fill="#fff"/>
<circle cx="345.85" cy="686.1" r="2.9" fill="#fff"/>
<circle cx="348" cy="686.1" r="2.9" fill="#fff"/>
<circle cx="355.6" cy="686.1" r="2.9" fill="#000"/>
<circle cx="362.5" cy="686.1" r="2.9" fill="#fff"/>
<circle cx="366" cy="686.1" r="2.9" fill="#fff"/>
<circle cx="370.6" cy="686.1" r="2.9" fill="#000"/>
<circle cx="372.5" cy="686.1" r="2.9" fill="#000"/>
<circle cx="375" cy="686.1" r="2.9" fill="#000"/>
<circle cx="377.5" cy="686.1" r="2.9" fill="#fff"/>
<circle cx="381" cy="686.1" r="2.9" fill="#fff"/>
<circle cx="383" cy="686.1" r="2.9" fill="#fff"/>
<circle cx="385" cy="686.1" r="2.9" fill="#000"/>
<circle cx="388" cy="686.1" r="2.9" fill="#000"/>
<circle cx="390" cy="686.1" r="2.9" fill="#000"/>
<circle cx="390" cy="686.1" r="2.9" fill="#fff"/>
<circle cx="393" cy="686.1" r="2.9" fill="#fff"/>
<circle cx="395" cy="686.1" r="2.9" fill="#000"/>
<circle cx="395" cy="686.1" r="2.9" fill="#000"/>
<circle cx="399" cy="686.1" r="2.9" fill="#fff"/>
<circle cx="400" cy="686.1" r="2.9" fill="#000"/>
<circle cx="402" cy="686.1" r="2.9" fill="#fff"/>
<circle cx="405" cy="686.1" r="2.9" fill="#000"/>
<circle cx="409" cy="686.1" r="2.9" fill="#fff"/>
<circle cx="413" cy="686.1" r="2.9" fill="#000"/>
<circle cx="415" cy="686.1" r="2.9" fill="#fff"/>
<circle cx="415" cy="686.1" r="2.9" fill="#000"/>
<circle cx="418" cy="686.1" r="2.9" fill="#000"/>
<circle cx="419" cy="686.1" r="2.9" fill="#fff"/>
<circle cx="423" cy="686.1" r="2.9" fill="#000"/>
<circle cx="425" cy="686.1" r="2.9" fill="#fff"/>
<circle cx="427" cy="686.1" r="2.9" fill="#000"/>
<circle cx="429" cy="686.1" r="2.9" fill="#fff"/>
<circle cx="435" cy="686.1" r="2.9" fill="#000"/>
<circle cx="436" cy="686.1" r="2.9" fill="#fff"/>
<circle cx="439" cy="686.1" r="2.9" fill="#fff"/>
<circle cx="443" cy="686.1" r="2.9" fill="#000"/>
<circle cx="447" cy="686.1" r="2.9" fill="#fff"/>
<circle cx="448" cy="686.1" r="2.9" fill="#fff"/>
<circle cx="452" cy="686.1" r="2.9" fill="#000"/>
<circle cx="454" cy="686.1" r="2.9" fill="#000"/>
<circle cx="454" cy="686.1" r="2.9" fill="#fff"/>
<circle cx="456.5" cy="686.1" r="2.9" fill="#fff"/>
<circle cx="459" cy="686.1" r="2.9" fill="#fff"/>
<circle cx="460" cy="686.1" r="2.9" fill="#000"/>
<circle cx="463.5" cy="686.1" r="2.9" fill="#000"/>
<circle cx="464.5" cy="686.1" r="2.9" fill="#fff"/>
<circle cx="466.5" cy="686.1" r="2.9" fill="#fff"/>
<circle cx="468.75" cy="686.1" r="2.9" fill="#fff"/>
<circle cx="471" cy="686.1" r="2.9" fill="#fff"/>
<circle cx="472" cy="686.1" r="2.9" fill="#000"/>
<circle cx="475" cy="686.1" r="2.9" fill="#000"/>
<circle cx="476.5" cy="686.1" r="2.9" fill="#fff"/>
<circle cx="480.5" cy="686.1" r="2.9" fill="#fff"/>
<circle cx="482" cy="686.1" r="2.9" fill="#000"/>
<circle cx="485" cy="686.1" r="2.9" fill="#fff"/>
<circle cx="488" cy="686.1" r="2.9" fill="#000"/>
<circle cx="490" cy="686.1" r="2.9" fill="#000"/>
<circle cx="492" cy="686.1" r="2.9" fill="#000"/>
<circle cx="494" cy="686.1" r="2.9" fill="#fff"/>
<circle cx="498" cy="686.1" r="2.9" fill="#000"/>
<circle cx="501.5" cy="686.1" r="2.9" fill="#fff"/>
<circle cx="505" cy="686.1" r="2.9" fill="#000"/>
<circle cx="508" cy="686.1" r="2.9" fill="#fff"/>
<circle cx="510" cy="686.1" r="2.9" fill="#fff"/>
<circle cx="515" cy="686.1" r="2.9" fill="#000"/>
<circle cx="516" cy="686.1" r="2.9" fill="#fff"/>
<circle cx="518" cy="686.1" r="2.9" fill="#fff"/>
<circle cx="521" cy="686.1" r="2.9" fill="#000"/>
<circle cx="521" cy="686.1" r="2.9" fill="#fff"/>
<circle cx="524.75" cy="686.1" r="2.9" fill="#000"/>
<circle cx="527" cy="686.1" r="2.9" fill="#000"/>
<circle cx="533" cy="686.1" r="2.9" fill="#fff"/>
<circle cx="534.5" cy="686.1" r="2.9" fill="#fff"/>
<circle cx="537.5" cy="686.1" r="2.9" fill="#fff"/>
<circle cx="543.5" cy="686.1" r="2.9" fill="#000"/>
<circle cx="546.5" cy="686.1" r="2.9" fill="#000"/>
<circle cx="549.5" cy="686.1" r="2.9" fill="#000"/>
<circle cx="553" cy="686.1" r="2.9" fill="#000"/>
<circle cx="557" cy="686.1" r="2.9" fill="#fff"/>
<circle cx="559.25" cy="686.1" r="2.9" fill="#fff"/>
<circle cx="561.5" cy="686.1" r="2.9" fill="#fff"/>
<circle cx="563.75" cy="686.1" r="2.9" fill="#fff"/>
<circle cx="569" cy="686.1" r="2.9" fill="#000"/>
<circle cx="570.5" cy="686.1" r="2.9" fill="#000"/>
<circle cx="574.25" cy="686.1" r="2.9" fill="#fff"/>
<circle cx="577.25" cy="686.1" r="2.9" fill="#fff"/>
<circle cx="580.25" cy="686.1" r="2.9" fill="#fff"/>
<circle cx="586.25" cy="686.1" r="2.9" fill="#000"/>
<circle cx="587.5" cy="686.1" r="2.9" fill="#000"/>
<circle cx="593" cy="686.1" r="2.9" fill="#fff"/>
<circle cx="595" cy="686.1" r="2.9" fill="#fff"/>
<circle cx="598.75" cy="686.1" r="2.9" fill="#fff"/>
<circle cx="604.5" cy="686.1" r="2.9" fill="#000"/>
<circle cx="605.5" cy="686.1" r="2.9" fill="#000"/>
<circle cx="607.5" cy="686.1" r="2.9" fill="#000"/>
<circle cx="619.4" cy="686.1" r="2.9" fill="#fff"/>
<circle cx="622.5" cy="686.1" r="2.9" fill="#fff"/>
<circle cx="623.75" cy="686.1" r="2.9" fill="#fff"/>
<circle cx="636.25" cy="686.1" r="2.9" fill="#000"/>
<circle cx="638" cy="686.1" r="2.9" fill="#000"/>
<circle cx="649.4" cy="686.1" r="2.9" fill="#fff"/>
<circle cx="652.5" cy="686.1" r="2.9" fill="#fff"/>
<circle cx="653.75" cy="686.1" r="2.9" fill="#fff"/>
<circle cx="663.5" cy="686.1" r="2.9" fill="#000"/>
<circle cx="666.75" cy="686.1" r="2.9" fill="#000"/>
<circle cx="670" cy="686.1" r="2.9" fill="#000"/>
<circle cx="673" cy="686.1" r="2.9" fill="#000"/>
<circle cx="683" cy="686.1" r="2.9" fill="#fff"/>
<circle cx="685" cy="686.1" r="2.9" fill="#fff"/>
<circle cx="696" cy="686.1" r="2.9" fill="#000"/>
<circle cx="700" cy="686.1" r="2.9" fill="#000"/>
<circle cx="709" cy="686.1" r="2.9" fill="#fff"/>
<circle cx="711" cy="686.1" r="2.9" fill="#fff"/>
<circle cx="714" cy="686.1" r="2.9" fill="#fff"/>
<circle cx="725" cy="686.1" r="2.9" fill="#000"/>
<circle cx="727" cy="686.1" r="2.9" fill="#000"/>
<circle cx="729" cy="686.1" r="2.9" fill="#000"/>
<circle cx="737" cy="686.1" r="2.9" fill="#fff"/>
<circle cx="739" cy="686.1" r="2.9" fill="#fff"/>
<circle cx="742.5" cy="686.1" r="2.9" fill="#fff"/>
<circle cx="748" cy="686.1" r="2.9" fill="#000"/>
<circle cx="756" cy="686.1" r="2.9" fill="#fff"/>
<circle cx="759" cy="686.1" r="2.9" fill="#fff"/>
<circle cx="765" cy="686.1" r="2.9" fill="#000"/>
<circle cx="773" cy="686.1" r="2.9" fill="#000"/>
<circle cx="775.5" cy="686.1" r="2.9" fill="#000"/>
<circle cx="777.75" cy="686.1" r="2.9" fill="#000"/>
<circle cx="780" cy="686.1" r="2.9" fill="#000"/>
<circle cx="782" cy="686.1" r="2.9" fill="#000"/>
<circle cx="785" cy="686.1" r="2.9" fill="#fff"/>
<circle cx="788" cy="686.1" r="2.9" fill="#fff"/>
<circle cx="793" cy="686.1" r="2.9" fill="#000"/>
<circle cx="802.7" cy="686.1" r="2.9" fill="#000"/>
<circle cx="812.6" cy="686.1" r="2.9" fill="#fff"/>
<circle cx="814.7" cy="686.1" r="2.9" fill="#fff"/>
<circle cx="831" cy="686.1" r="2.9" fill="#000"/>
<circle cx="834" cy="686.1" r="2.9" fill="#000"/>
<circle cx="844" cy="686.1" r="2.9" fill="#fff"/>
<circle cx="846.4" cy="686.1" r="2.9" fill="#fff"/>
<circle cx="853.7" cy="686.1" r="2.9" fill="#000"/>
<circle cx="857.6" cy="686.1" r="2.9" fill="#000"/>
<circle cx="869.4" cy="686.1" r="2.9" fill="#fff"/>
<circle cx="872.5" cy="686.1" r="2.9" fill="#fff"/>
<circle cx="875.6" cy="686.1" r="2.9" fill="#fff"/>
<circle cx="885.7" cy="686.1" r="2.9" fill="#000"/>
<circle cx="889" cy="686.1" r="2.9" fill="#000"/>
<circle cx="891.4" cy="686.1" r="2.9" fill="#000"/>
<circle cx="896.7" cy="686.1" r="2.9" fill="#fff"/>
<circle cx="900" cy="686.1" r="2.9" fill="#fff"/>
<circle cx="908" cy="686.1" r="2.9" fill="#000"/>
<circle cx="910.8" cy="686.1" r="2.9" fill="#000"/>
<circle cx="918" cy="686.1" r="2.9" fill="#fff"/>
<circle cx="919.8" cy="686.1" r="2.9" fill="#fff"/>
<circle cx="922" cy="686.1" r="2.9" fill="#fff"/>
<circle cx="926" cy="686.1" r="2.9" fill="#000"/>
<circle cx="928.2" cy="686.1" r="2.9" fill="#000"/>
<circle cx="930.5" cy="686.1" r="2.9" fill="#fff"/>
<circle cx="932.5" cy="686.1" r="2.9" fill="#000"/>
<circle cx="935" cy="686.1" r="2.9" fill="#fff"/>
<circle cx="938" cy="686.1" r="2.9" fill="#000"/>
<circle cx="941.2" cy="686.1" r="2.9" fill="#fff"/>
<circle cx="951.9" cy="686.1" r="2.9" fill="#000"/>
<circle cx="956.4" cy="686.1" r="2.9" fill="#fff"/>
<circle cx="959.6" cy="686.1" r="2.9" fill="#000"/>
<circle cx="962.4" cy="686.1" r="2.9" fill="#fff"/>
<circle cx="965" cy="686.1" r="2.9" fill="#000"/>
<circle cx="968.6" cy="686.1" r="2.9" fill="#fff"/>
<circle cx="971.3" cy="686.1" r="2.9" fill="#fff"/>
<circle cx="974" cy="686.1" r="2.9" fill="#fff"/>
<circle cx="977.5" cy="686.1" r="2.9" fill="#000"/>
<circle cx="986.5" cy="686.1" r="2.9" fill="#fff"/>
<circle cx="989.25" cy="686.1" r="2.9" fill="#fff"/>
<circle cx="992" cy="686.1" r="2.9" fill="#fff"/>
<circle cx="993.8" cy="686.1" r="2.9" fill="#fff"/>
<circle cx="1006.7" cy="686.1" r="2.9" fill="#000"/>
<circle cx="1009" cy="686.1" r="2.9" fill="#000"/>
<circle cx="1011" cy="686.1" r="2.9" fill="#000"/>
<circle cx="1012.4" cy="686.1" r="2.9" fill="#000"/>
<circle cx="1022" cy="686.1" r="2.9" fill="#fff"/>
<circle cx="1025.3" cy="686.1" r="2.9" fill="#fff"/>
<circle cx="1039.4" cy="686.1" r="2.9" fill="#000"/>
<circle cx="1041" cy="686.1" r="2.9" fill="#000"/>
<circle cx="1043" cy="686.1" r="2.9" fill="#000"/>
<circle cx="1056" cy="686.1" r="2.9" fill="#fff"/>
<circle cx="1060" cy="686.1" r="2.9" fill="#fff"/>
<circle cx="1062.2" cy="686.1" r="2.9" fill="#fff"/>
<circle cx="1064.4" cy="686.1" r="2.9" fill="#fff"/>
<circle cx="1071" cy="686.1" r="2.9" fill="#000"/>
<circle cx="1073.3" cy="686.1" r="2.9" fill="#000"/>
<circle cx="1075.6" cy="686.1" r="2.9" fill="#000"/>
<circle cx="1082.5" cy="686.1" r="2.9" fill="#fff"/>
<circle cx="1086" cy="686.1" r="2.9" fill="#000"/>
<circle cx="1090" cy="686.1" r="2.9" fill="#000"/>
<circle cx="1096" cy="686.1" r="2.9" fill="#fff"/>
<circle cx="1099.5" cy="686.1" r="2.9" fill="#fff"/>
<circle cx="1103" cy="686.1" r="2.9" fill="#fff"/>
<circle cx="1105" cy="686.1" r="2.9" fill="#000"/>
<circle cx="1109.6" cy="686.1" r="2.9" fill="#fff"/>
<circle cx="1120.2" cy="686.1" r="2.9" fill="#000"/>
<circle cx="1122.5" cy="686.1" r="2.9" fill="#000"/>
<circle cx="1124.75" cy="686.1" r="2.9" fill="#000"/>
<circle cx="1127" cy="686.1" r="2.9" fill="#000"/>
<circle cx="1131.5" cy="686.1" r="2.9" fill="#fff"/>
<circle cx="1134.9" cy="686.1" r="2.9" fill="#fff"/>
<circle cx="1138.8" cy="686.1" r="2.9" fill="#fff"/>
<circle cx="1143" cy="686.1" r="2.9" fill="#000"/>
<circle cx="1145.5" cy="686.1" r="2.9" fill="#000"/>
<circle cx="1148" cy="686.1" r="2.9" fill="#000"/>
<circle cx="1156.2" cy="686.1" r="2.9" fill="#fff"/>
<circle cx="1158.5" cy="686.1" r="2.9" fill="#fff"/>
<circle cx="1167.5" cy="686.1" r="2.9" fill="#000"/>
<circle cx="1171" cy="686.1" r="2.9" fill="#000"/>
<circle cx="1173.5" cy="686.1" r="2.9" fill="#000"/>
<circle cx="1182" cy="686.1" r="2.9" fill="#fff"/>
<circle cx="1185" cy="686.1" r="2.9" fill="#000"/>
<circle cx="1188" cy="686.1" r="2.9" fill="#000"/>
<circle cx="1191" cy="686.1" r="2.9" fill="#000"/>
<circle cx="1193" cy="686.1" r="2.9" fill="#000"/>
<circle cx="1194" cy="686.1" r="2.9" fill="#fff"/>
<circle cx="1200" cy="686.1" r="2.9" fill="#000"/>
<circle cx="1203" cy="686.1" r="2.9" fill="#fff"/>
<circle cx="1205" cy="686.1" r="2.9" fill="#000"/>
</g>
<g font-size="13.5" text-anchor="middle" stroke="#000" stroke-width="0.3">
<text transform="translate(153.8,657) rotate(-90)">G135</text>
<text transform="translate(171.7,657) rotate(-90)">H2O2</text>
<text transform="translate(188.7,657) rotate(-90)">Oxctl</text>
<text transform="translate(210.7,657) rotate(-90)">dia15</text>
<text transform="translate(238.3,657) rotate(-90)">dia5</text>
<text transform="translate(267.8,657) rotate(-90)">C30</text>
<text transform="translate(296.3,657) rotate(-90)">LPh</text>
<text transform="translate(314.2,657) rotate(-90)">aero</text>
<text transform="translate(343.5,657) rotate(-90)">ferm</text>
<text transform="translate(365.9,657) rotate(-90)">M9−tran</text>
<text transform="translate(382.8,657) rotate(-90)">MG+120</text>
<text transform="translate(398.4,657) rotate(-90)">MG+60</text>
<text transform="translate(402.13,657) rotate(-90)">MG+t5</text>
<text transform="translate(405.87,657) rotate(-90)">MG+45</text>
<text transform="translate(409.6,657) rotate(-90)">MG+30</text>
<text transform="translate(413.33,657) rotate(-90)">MG+25</text>
<text transform="translate(417.07,657) rotate(-90)">MG+20</text>
<text transform="translate(420.8,657) rotate(-90)">MG+15</text>
<text transform="translate(424.53,657) rotate(-90)">MG+10</text>
<text transform="translate(428.27,657) rotate(-90)">MG+5</text>
<text transform="translate(432,657) rotate(-90)">MG+90</text>
<text transform="translate(440,657) rotate(-90)">MG−0.2</text>
<text transform="translate(446.6,657) rotate(-90)">MG−0.1</text>
<text transform="translate(460,657) rotate(-90)">GM−0.2</text>
<text transform="translate(467.5,657) rotate(-90)">GM−0.4</text>
<text transform="translate(481,657) rotate(-90)">GM+5</text>
<text transform="translate(484.67,657) rotate(-90)">GM+10</text>
<text transform="translate(488.33,657) rotate(-90)">GM+15</text>
<text transform="translate(492,657) rotate(-90)">GM+20</text>
<text transform="translate(495.67,657) rotate(-90)">GM+25</text>
<text transform="translate(499.33,657) rotate(-90)">GM+30</text>
<text transform="translate(503,657) rotate(-90)">GM+45</text>
<text transform="translate(512.3,657) rotate(-90)">GM+120</text>
<text transform="translate(523.6,657) rotate(-90)">GM+60</text>
<text transform="translate(526.4,657) rotate(-90)">GM+90</text>
<text transform="translate(529.2,657) rotate(-90)">GM+t5</text>
<text transform="translate(532,657) rotate(-90)">GM+150</text>
<text transform="translate(538.1,657) rotate(-90)">M9−exp</text>
<text transform="translate(560.5,657) rotate(-90)">Mal</text>
<text transform="translate(580.8,657) rotate(-90)">Glu</text>
<text transform="translate(598.6,657) rotate(-90)">BMM</text>
<text transform="translate(624.7,657) rotate(-90)">Etha</text>
<text transform="translate(653.1,657) rotate(-90)">Gly</text>
<text transform="translate(686.7,657) rotate(-90)">HiOs</text>
<text transform="translate(712.7,657) rotate(-90)">S2</text>
<text transform="translate(741.2,657) rotate(-90)">S4</text>
<text transform="translate(759.9,657) rotate(-90)">S5</text>
<text transform="translate(789.1,657) rotate(-90)">S7</text>
<text transform="translate(816.2,657) rotate(-90)">S6</text>
<text transform="translate(848.7,657) rotate(-90)">B36</text>
<text transform="translate(873.9,657) rotate(-90)">LoTm</text>
<text transform="translate(901.5,657) rotate(-90)">G/S</text>
<text transform="translate(923.1,657) rotate(-90)">SMMPr</text>
<text transform="translate(935.1,657) rotate(-90)">T−2.40H</text>
<text transform="translate(938.3,657) rotate(-90)">T−1.40H</text>
<text transform="translate(941.5,657) rotate(-90)">T−4.40H</text>
<text transform="translate(946.8,657) rotate(-90)">T0.0H</text>
<text transform="translate(962.5,657) rotate(-90)">T1.0H</text>
<text transform="translate(968.8,657) rotate(-90)">T2.0H</text>
<text transform="translate(975.2,657) rotate(-90)">T3.0H</text>
<text transform="translate(979,657) rotate(-90)">T4.0H</text>
<text transform="translate(991.2,657) rotate(-90)">M9−stat</text>
<text transform="translate(1027.3,657) rotate(-90)">Sw</text>
<text transform="translate(1060.6,657) rotate(-90)">LBGstat</text>
<text transform="translate(1085,657) rotate(-90)">M0t45</text>
<text transform="translate(1100.5,657) rotate(-90)">Lbtran</text>
<text transform="translate(1115.1,657) rotate(-90)">M40t45</text>
<text transform="translate(1136.5,657) rotate(-90)">M0t90</text>
<text transform="translate(1161.7,657) rotate(-90)">BI</text>
<text transform="translate(1187.7,657) rotate(-90)">M0t45</text>
<text transform="translate(1203.1,657) rotate(-90)">Lbexp</text>
<text transform="translate(1207.2,657) rotate(-90)">Lbexp</text>
<text transform="translate(143.7,714.6) rotate(-90)">G150</text>
<text transform="translate(159.9,714.6) rotate(-90)">G180</text>
<text transform="translate(179.1,714.6) rotate(-90)">Paraq</text>
<text transform="translate(197.7,714.6) rotate(-90)">LBGexp</text>
<text transform="translate(227,714.6) rotate(-90)">Diami</text>
<text transform="translate(255.6,714.6) rotate(-90)">C90</text>
<text transform="translate(282.5,714.6) rotate(-90)">Cold</text>
<text transform="translate(304.4,714.6) rotate(-90)">HPh</text>
<text transform="translate(332,714.6) rotate(-90)">nit</text>
<text transform="translate(360.5,714.6) rotate(-90)">GM+150</text>
<text transform="translate(374.5,714.6) rotate(-90)">MG+150</text>
<text transform="translate(392,714.6) rotate(-90)">MG+90</text>
<text transform="translate(395.98,714.6) rotate(-90)">MG+60</text>
<text transform="translate(399.96,714.6) rotate(-90)">MG+45</text>
<text transform="translate(403.94,714.6) rotate(-90)">MG+30</text>
<text transform="translate(407.92,714.6) rotate(-90)">MG+25</text>
<text transform="translate(411.9,714.6) rotate(-90)">MG+20</text>
<text transform="translate(415.88,714.6) rotate(-90)">MG+15</text>
<text transform="translate(419.86,714.6) rotate(-90)">MG+10</text>
<text transform="translate(423.84,714.6) rotate(-90)">MG+5</text>
<text transform="translate(427.82,714.6) rotate(-90)">MG+t5</text>
<text transform="translate(431.8,714.6) rotate(-90)">MG+120</text>
<text transform="translate(437,714.6) rotate(-90)">MG−0.1</text>
<text transform="translate(444.5,714.6) rotate(-90)">GM−0.1</text>
<text transform="translate(459.5,714.6) rotate(-90)">Glucon</text>
<text transform="translate(466,714.6) rotate(-90)">GM−0.1</text>
<text transform="translate(472,714.6) rotate(-90)">GM+5</text>
<text transform="translate(476.17,714.6) rotate(-90)">GM+10</text>
<text transform="translate(480.33,714.6) rotate(-90)">GM+15</text>
<text transform="translate(484.5,714.6) rotate(-90)">GM+20</text>
<text transform="translate(488.67,714.6) rotate(-90)">GM+25</text>
<text transform="translate(492.83,714.6) rotate(-90)">GM+30</text>
<text transform="translate(497,714.6) rotate(-90)">GM+60</text>
<text transform="translate(503,714.6) rotate(-90)">GM+120</text>
<text transform="translate(507.5,714.6) rotate(-90)">GM+150</text>
<text transform="translate(519.7,714.6) rotate(-90)">GM+90</text>
<text transform="translate(524.23,714.6) rotate(-90)">GM+45</text>
<text transform="translate(528.77,714.6) rotate(-90)">GM+t5</text>
<text transform="translate(533.3,714.6) rotate(-90)">GM+5</text>
<text transform="translate(548.3,714.6) rotate(-90)">M/G</text>
<text transform="translate(575.1,714.6) rotate(-90)">Fru</text>
<text transform="translate(590.5,714.6) rotate(-90)">SMM</text>
<text transform="translate(609.2,714.6) rotate(-90)">Heat</text>
<text transform="translate(640.1,714.6) rotate(-90)">Salt</text>
<text transform="translate(667.8,714.6) rotate(-90)">HiTm</text>
<text transform="translate(699.7,714.6) rotate(-90)">S1</text>
<text transform="translate(729.8,714.6) rotate(-90)">S3</text>
<text transform="translate(751.7,714.6) rotate(-90)">S3</text>
<text transform="translate(769.6,714.6) rotate(-90)">S6</text>
<text transform="translate(796.7,714.6) rotate(-90)">S8</text>
<text transform="translate(836.5,714.6) rotate(-90)">BT</text>
<text transform="translate(857.7,714.6) rotate(-90)">B60</text>
<text transform="translate(887.8,714.6) rotate(-90)">Pyr</text>
<text transform="translate(912.4,714.6) rotate(-90)">Glucon</text>
<text transform="translate(933.2,714.6) rotate(-90)">T−5.40H</text>
<text transform="translate(937,714.6) rotate(-90)">T−4.40H</text>
<text transform="translate(940.7,714.6) rotate(-90)">T−3.40H</text>
<text transform="translate(944.5,714.6) rotate(-90)">T−0.40H</text>
<text transform="translate(957.2,714.6) rotate(-90)">T0.30H</text>
<text transform="translate(964.7,714.6) rotate(-90)">T1.30H</text>
<text transform="translate(971.5,714.6) rotate(-90)">T2.30H</text>
<text transform="translate(977.1,714.6) rotate(-90)">T3.30H</text>
<text transform="translate(982,714.6) rotate(-90)">T5.0H</text>
<text transform="translate(1009.9,714.6) rotate(-90)">BC</text>
<text transform="translate(1043.5,714.6) rotate(-90)">LPhT</text>
<text transform="translate(1076,714.6) rotate(-90)">LBGtran</text>
<text transform="translate(1091.5,714.6) rotate(-90)">M40t45</text>
<text transform="translate(1110.2,714.6) rotate(-90)">Mt0</text>
<text transform="translate(1124,714.6) rotate(-90)">M40t90</text>
<text transform="translate(1148.6,714.6) rotate(-90)">Lbstat</text>
<text transform="translate(1172.2,714.6) rotate(-90)">S0</text>
<text transform="translate(1190.1,714.6) rotate(-90)">dia0</text>
<text transform="translate(1207,714.6) rotate(-90)">Mt0</text>
<text transform="translate(1209,714.6) rotate(-90)">Mt0</text>
</g>
</svg></body></html>
